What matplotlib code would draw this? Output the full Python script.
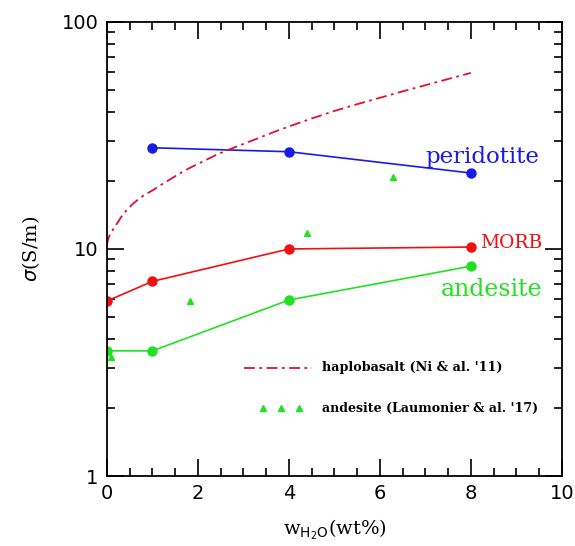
import numpy as np
from matplotlib import pyplot as plt
from matplotlib.ticker import FixedLocator, NullFormatter

# model curves (wt% H2O vs conductivity S/m)
water = [0, 1, 4, 8]
peridotite_x = [1, 4, 8]
peridotite = [27.9, 26.8, 21.6]
morb = [5.9, 7.2, 10.0, 10.2]
andesite = [3.56, 3.56, 5.96, 8.4]

# haplobasalt curve
haplo_x = [0.0, 0.01, 0.03, 0.06, 0.1, 0.18, 0.25, 0.32, 0.43, 0.57, 0.73, 0.87, 1.02,
           1.16, 1.31, 1.5, 1.67, 1.85, 2.04, 2.22, 2.41, 2.66, 3.0, 3.3, 3.75, 4.24,
           4.6, 5.0, 5.5, 6.0, 6.5, 7.0, 7.5, 8.0]
haplo_y = [10.4, 10.7, 11.1, 11.5, 11.9, 12.6, 13.2, 13.9, 14.8, 15.8, 16.8, 17.5, 18.2,
           19.0, 19.8, 20.9, 21.9, 22.9, 23.9, 24.9, 26.0, 27.3, 29.0, 30.6, 33.2, 36.0,
           38.1, 40.5, 43.4, 46.3, 49.4, 52.6, 56.0, 59.6]

# Laumonier et al. 2017 andesite
laum_x = [0.1, 1.82, 4.4, 6.3]
laum_y = [3.34, 5.9, 11.7, 20.8]

BLUE = "#1a1ae6"
RED = "#f01010"
GREEN = "#22e022"
DASHRED = "#e01030"
DASH = (6, 2.5, 1.5, 2.5)

fig = plt.figure(figsize=(5.75, 5.46), dpi=100)
ax = fig.add_axes([0.186, 0.128, 0.791, 0.832])

ax.plot(peridotite_x, peridotite, "-o", color=BLUE, lw=1.2, ms=6.5)
ax.plot(water, morb, "-o", color=RED, lw=1.2, ms=6.5)
ax.plot(water, andesite, "-o", color=GREEN, lw=1.2, ms=6.5)
ax.plot(haplo_x, haplo_y, color=DASHRED, lw=1.3, dashes=DASH)
ax.plot(laum_x, laum_y, "^", color=GREEN, ms=4.5, ls="none")

ax.set_yscale("log")
ax.set_xlim(0, 10)
ax.set_ylim(1, 100)

ax.set_xticks([0, 2, 4, 6, 8, 10])
ax.set_xticklabels(["0", "2", "4", "6", "8", "10"])
ax.set_xticks(np.arange(0, 10.01, 0.5), minor=True)
ax.yaxis.set_major_locator(FixedLocator([1, 10, 100]))
ax.yaxis.set_minor_locator(FixedLocator([k * 10 ** d for d in range(0, 2) for k in range(2, 10)]))
ax.yaxis.set_minor_formatter(NullFormatter())
ax.set_yticklabels(["1", "10", "100"])

ax.tick_params(which="both", direction="in", top=True, right=True, width=1.2,
               labelsize=14, pad=6)
ax.tick_params(which="major", length=12)
ax.tick_params(which="minor", length=6)
for s in ax.spines.values():
    s.set_linewidth(1.3)

ax.set_xlabel(r"w$_{\rm H_2O}$(wt%)", fontsize=14, family="DejaVu Serif", labelpad=10)
ax.set_ylabel(r"$\sigma$(S/m)", fontsize=14, family="DejaVu Serif", labelpad=14)

ax.text(8.25, 25.5, "peridotite", color=BLUE, fontsize=16.5, family="DejaVu Serif",
        ha="center", va="center")
ax.text(8.2, 10.6, "MORB", color=RED, fontsize=13.5, family="DejaVu Serif",
        ha="left", va="center")
ax.text(8.46, 6.6, "andesite", color=GREEN, fontsize=17, family="DejaVu Serif",
        ha="center", va="center")

# hand-drawn legend
ax.plot([3.02, 4.5], [3.0, 3.0], color=DASHRED, lw=1.3, dashes=DASH)
ax.text(4.72, 3.0, "haplobasalt (Ni & al. '11)", fontsize=9.2, family="DejaVu Serif",
        weight="bold", va="center")
ax.plot([3.42, 3.82, 4.22], [1.99, 1.99, 1.99], "^", color=GREEN, ms=4.5, ls="none")
ax.text(4.72, 1.99, "andesite (Laumonier & al. '17)", fontsize=9.1, family="DejaVu Serif",
        weight="bold", va="center")

fig.savefig("out.png", dpi=100)
